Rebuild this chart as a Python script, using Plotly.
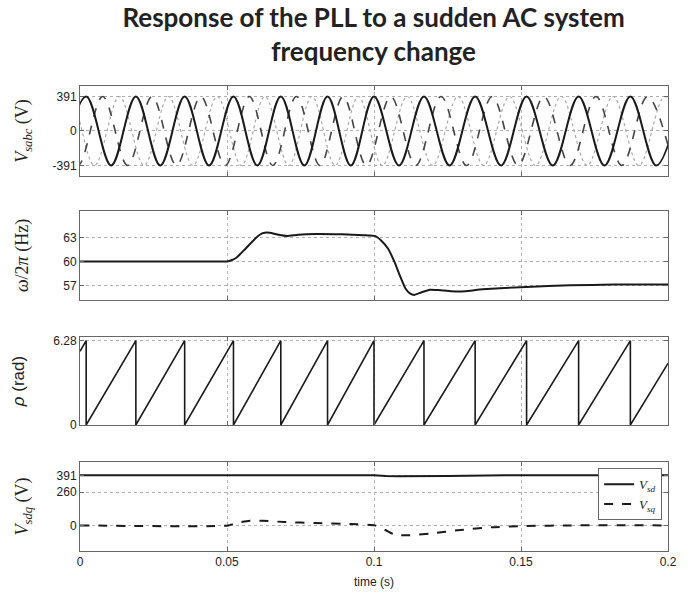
import plotly.graph_objects as go
from plotly.subplots import make_subplots

# ---------------- data ----------------
AMP = 391
time_range = [0, 0.2]
x_ticks = [0, 0.05, 0.1, 0.15, 0.2]
x_tick_labels = ["0", "0.05", "0.1", "0.15", "0.2"]

# extrema (peak / trough) times of the three phase voltages
va_t = [-0.0063, 0.0021, 0.0106, 0.0190, 0.0273, 0.0356, 0.0439, 0.0522, 0.0603,
        0.0683, 0.0763, 0.0842, 0.0921, 0.1000, 0.1085, 0.1170, 0.1257, 0.1344,
        0.1432, 0.1519, 0.1608, 0.1696, 0.1784, 0.1872, 0.1960, 0.2047]
va_v = [-391, 391] * 13
vb_t = [-0.0090, -0.0007, 0.0077, 0.0162, 0.0245, 0.0328, 0.0411, 0.0494, 0.0576,
        0.0656, 0.0736, 0.0816, 0.0895, 0.0974, 0.1057, 0.1142, 0.1228, 0.1315,
        0.1402, 0.1490, 0.1578, 0.1667, 0.1755, 0.1843, 0.1930, 0.2018]
vb_v = [391, -391] * 13
vc_t = [-0.0118, -0.0035, 0.0049, 0.0134, 0.0218, 0.0301, 0.0384, 0.0467, 0.0549,
        0.0629, 0.0710, 0.0789, 0.0868, 0.0947, 0.1028, 0.1113, 0.1199, 0.1286,
        0.1373, 0.1461, 0.1549, 0.1637, 0.1725, 0.1813, 0.1901, 0.1989, 0.2076]
vc_v = [-391, 391] * 13 + [-391]

# PLL frequency (Hz)
freq_t = [0, 0.0400, 0.0500, 0.0515, 0.0533, 0.0563, 0.0600, 0.0622, 0.0645, 0.0675,
          0.0704, 0.0742, 0.0801, 0.0891, 0.0966, 0.1003, 0.1025, 0.1048, 0.1070,
          0.1085, 0.1107, 0.1122, 0.1137, 0.1160, 0.1190, 0.1220, 0.1264, 0.1309,
          0.1369, 0.1518, 0.1667, 0.1816, 0.2000]
freq_v = [60, 60, 60, 60.15, 60.5, 61.6, 63.0, 63.55, 63.6, 63.35,
          63.2, 63.35, 63.45, 63.4, 63.3, 63.2, 62.6, 61.6, 59.9,
          58.5, 56.6, 56.0, 55.8, 56.1, 56.45, 56.4, 56.25, 56.25,
          56.5, 56.8, 57.0, 57.1, 57.1]

# PLL phase angle (rad): wrap instants
RHO_MAX = 6.28
rho_start = 5.49
rho_end = 4.59
phase_wrap_t = [0.0021, 0.0190, 0.0356, 0.0522, 0.0683, 0.0842, 0.1000,
                0.1170, 0.1344, 0.1519, 0.1696, 0.1872]

# dq voltages (V)
vd_t = [0, 0.05, 0.055, 0.08, 0.1, 0.104, 0.108, 0.125, 0.145, 0.2]
vd_v = [391, 391, 389, 389, 391, 385, 383, 385, 391, 391]
vq_t = [0, 0.0505, 0.0533, 0.0578, 0.0622, 0.0697, 0.0800, 0.0920, 0.1003, 0.1040,
        0.1070, 0.1115, 0.1190, 0.1294, 0.1399, 0.1518, 0.1670, 0.2000]
vq_v = [0, 0, 20, 36, 36, 26, 18, 10, 0, -38,
        -72, -77, -64, -36, -15, -5, 0, 0]

# ---------------- build rho sawtooth from wrap instants ----------------
rho_t = [0]
rho_v = [rho_start]
for w in phase_wrap_t:
    rho_t += [w, w]
    rho_v += [RHO_MAX, 0]
rho_t.append(time_range[1])
rho_v.append(rho_end)

# ---------------- figure ----------------
fig = make_subplots(rows=4, cols=1, shared_xaxes=True)

BLACK = "#1a1a1a"
fig.add_trace(go.Scatter(x=vc_t, y=vc_v, mode="lines", line=dict(color="#a8a8a8", width=1.2, dash="dot", shape="spline", smoothing=1.0), showlegend=False), row=1, col=1)
fig.add_trace(go.Scatter(x=vb_t, y=vb_v, mode="lines", line=dict(color="#444444", width=1.6, dash="dash", shape="spline", smoothing=1.0), showlegend=False), row=1, col=1)
fig.add_trace(go.Scatter(x=va_t, y=va_v, mode="lines", line=dict(color=BLACK, width=2, shape="spline", smoothing=1.0), showlegend=False), row=1, col=1)

fig.add_trace(go.Scatter(x=freq_t, y=freq_v, mode="lines", line=dict(color=BLACK, width=2, shape="spline", smoothing=0.4), showlegend=False), row=2, col=1)

fig.add_trace(go.Scatter(x=rho_t, y=rho_v, mode="lines", line=dict(color=BLACK, width=1.6), showlegend=False), row=3, col=1)

fig.add_trace(go.Scatter(x=vd_t, y=vd_v, mode="lines", name="<i>V<sub>sd</sub></i>", line=dict(color=BLACK, width=2)), row=4, col=1)
fig.add_trace(go.Scatter(x=vq_t, y=vq_v, mode="lines", name="<i>V<sub>sq</sub></i>", line=dict(color=BLACK, width=2, dash="dash", shape="spline", smoothing=0.6)), row=4, col=1)

AX_LINE = "#666666"
TICK_FONT = dict(family="Liberation Sans", size=12, color="#222222")
common_axis = dict(showline=True, linecolor=AX_LINE, linewidth=1, mirror="ticks",
                   ticks="inside", ticklen=4, tickcolor=AX_LINE,
                   showgrid=True, gridcolor="#b0b0b0", griddash="dot", gridwidth=1,
                   zeroline=False, tickfont=TICK_FONT)

domains = [[0.8065, 1.0], [0.5398, 0.7312], [0.271, 0.4602], [0.0, 0.1914]]
for i in range(1, 5):
    fig.update_xaxes(range=time_range, tickvals=x_ticks, ticktext=x_tick_labels, row=i, col=1, **common_axis)
    fig.update_yaxes(domain=domains[i - 1], row=i, col=1, **common_axis)

SERIF = dict(family="Liberation Serif", size=18, color="#222222")
fig.update_yaxes(range=[-510, 510], tickvals=[-391, 0, 391], ticktext=["-391", "0", "391"],
                 title=dict(text="<i>V<sub>sabc</sub></i> (V)", font=SERIF, standoff=19), row=1, col=1)
fig.update_yaxes(range=[55.16, 66.33], tickvals=[57, 60, 63], ticktext=["57", "60", "63"],
                 title=dict(text="<i>ω</i>/2<i>π</i> (Hz)", font=SERIF, standoff=29), row=2, col=1)
fig.update_yaxes(range=[0, 6.55], tickvals=[0, 6.28], ticktext=["0", "6.28"],
                 title=dict(text="<i>ρ</i> (rad)", font=dict(family="Liberation Sans", size=17, color="#222222"), standoff=24), row=3, col=1)
fig.update_yaxes(range=[-200, 495], tickvals=[0, 260, 391], ticktext=["0", "260", "391"],
                 title=dict(text="<i>V<sub>sdq</sub></i> (V)", font=SERIF, standoff=23), row=4, col=1)
fig.update_xaxes(title=dict(text="time (s)", font=dict(family="Liberation Sans", size=12, color="#222222"), standoff=9), row=4, col=1)

fig.update_layout(
    width=688, height=598,
    margin=dict(l=80, r=20, t=86, b=47),
    paper_bgcolor="white", plot_bgcolor="white",
    title=dict(text="Response of the PLL to a sudden AC system<br>frequency change",
               font=dict(family="Lato", size=26, color="#222222", weight="bold"),
               x=0.543, xanchor="center", y=0.955, yanchor="top"),
    legend=dict(x=0.99, y=0.178, xanchor="right", yanchor="top",
                bgcolor="white", bordercolor=AX_LINE, borderwidth=1,
                font=dict(family="Liberation Serif", size=13, color="#222222"),
                tracegroupgap=0, itemwidth=30),
)

fig.write_html("out.html", config={"displayModeBar": False},
               post_script="document.body.style.margin='0px';")
